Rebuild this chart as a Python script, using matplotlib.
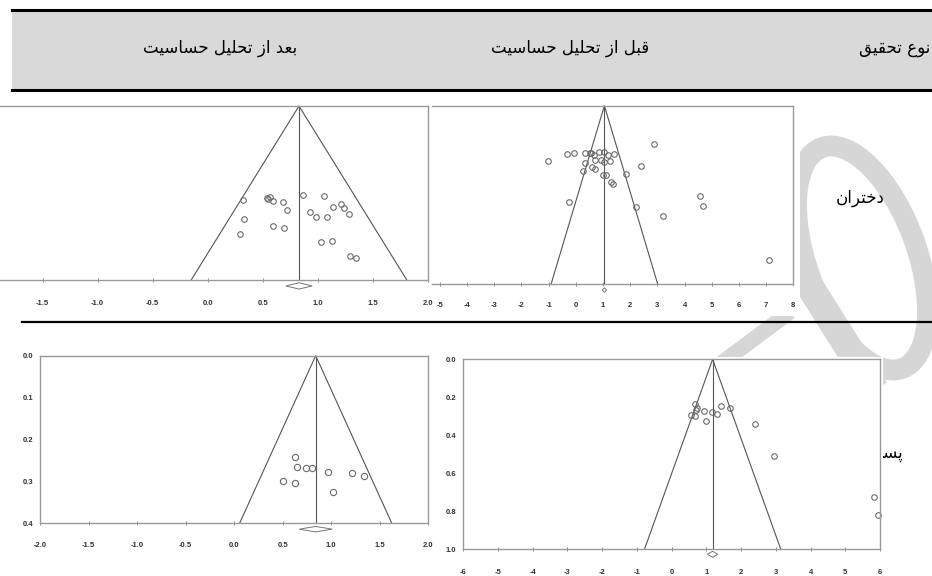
import matplotlib
matplotlib.use("Agg")
import matplotlib.pyplot as plt
from matplotlib.patches import Polygon, Rectangle, Ellipse

plt.rcParams['axes.unicode_minus'] = False

W, H = 932, 576

# ---------------- text ----------------
header_after = "بعد از تحلیل حساسیت"
header_before = "قبل از تحلیل حساسیت"
header_type = "نوع تحقیق"
row_girls = "دختران"
row_boys = "پسر"

# ---------------- data ----------------
# Girls, after sensitivity analysis (top-left)
ga_effect = [0.32, 0.54, 0.57, 0.55, 0.59, 0.68, 0.72, 0.33, 0.59, 0.69, 0.29, 0.87,
             1.06, 0.93, 0.98, 1.08, 1.14, 1.21, 1.24, 1.28, 1.03, 1.13, 1.29, 1.35]
ga_se = [0.269, 0.263, 0.262, 0.266, 0.274, 0.275, 0.298, 0.325, 0.344, 0.351, 0.367, 0.257,
         0.260, 0.304, 0.319, 0.318, 0.289, 0.282, 0.293, 0.310, 0.392, 0.387, 0.430, 0.438]
ga_pooled, ga_ci = 0.83, (0.71, 0.95)
ga_semax = 0.5
ga_xticks = [-1.5, -1.0, -0.5, 0.0, 0.5, 1.0, 1.5, 2.0]
ga_xlabels = ["-1.5", "-1.0", "-0.5", "0.0", "0.5", "1.0", "1.5", "2.0"]

# Girls, before sensitivity analysis (top-right)
gb_effect = [-1.01, -0.33, -0.05, 0.32, 0.52, 0.57, 0.68, 0.84, 1.04, 1.18, 1.39, 0.71,
             0.92, 1.05, 1.26, 0.33, 0.59, 0.70, 0.28, 1.01, 1.12, 1.30, 1.35, 1.83,
             2.38, 2.89, -0.25, 2.20, 3.19, 4.55, 4.67, 7.09]
gb_se = [0.310, 0.270, 0.268, 0.268, 0.266, 0.268, 0.276, 0.257, 0.259, 0.278, 0.272, 0.302,
         0.306, 0.317, 0.311, 0.324, 0.343, 0.356, 0.368, 0.390, 0.388, 0.430, 0.439, 0.381,
         0.340, 0.214, 0.540, 0.570, 0.621, 0.505, 0.563, 0.865]
gb_pooled, gb_ci = 1.05, (0.97, 1.13)
gb_semax = 1.0
gb_xticks = [-5, -4, -3, -2, -1, 0, 1, 2, 3, 4, 5, 6, 7, 8]
gb_xlabels = ["-5", "-4", "-3", "-2", "-1", "0", "1", "2", "3", "4", "5", "6", "7", "8"]

# Boys, after sensitivity analysis (bottom-left)
ba_effect = [0.63, 0.65, 0.74, 0.80, 0.97, 1.21, 1.34, 0.50, 0.63, 1.02]
ba_se = [0.242, 0.266, 0.267, 0.269, 0.277, 0.281, 0.286, 0.298, 0.303, 0.325]
ba_pooled, ba_ci = 0.84, (0.67, 1.01)
ba_semax = 0.4
ba_xticks = [-2.0, -1.5, -1.0, -0.5, 0.0, 0.5, 1.0, 1.5, 2.0]
ba_xlabels = ["-2.0", "-1.5", "-1.0", "-0.5", "0.0", "0.5", "1.0", "1.5", "2.0"]
ba_yticks = [0.0, 0.1, 0.2, 0.3, 0.4]
ba_ylabels = ["0.0", "0.1", "0.2", "0.3", "0.4"]

# Boys, before sensitivity analysis (bottom-right)
bb_effect = [0.66, 0.74, 0.70, 0.56, 0.68, 0.93, 0.99, 1.17, 1.30, 1.42, 1.69, 2.40,
             2.95, 5.84, 5.94]
bb_se = [0.236, 0.258, 0.267, 0.294, 0.299, 0.273, 0.324, 0.279, 0.287, 0.246, 0.258, 0.339,
         0.508, 0.724, 0.821]
bb_pooled, bb_ci = 1.18, (1.03, 1.33)
bb_semax = 1.0
bb_xticks = [-6, -5, -4, -3, -2, -1, 0, 1, 2, 3, 4, 5, 6]
bb_xlabels = ["-6", "-5", "-4", "-3", "-2", "-1", "0", "1", "2", "3", "4", "5", "6"]
bb_yticks = [0.0, 0.2, 0.4, 0.6, 0.8, 1.0]
bb_ylabels = ["0.0", "0.2", "0.4", "0.6", "0.8", "1.0"]

# ---------------- Persian shaping (presentation forms + visual order) ----------------
FORMS = {
    'ا': ('\uFE8D', '\uFE8E', None, None),
    'ب': ('\uFE8F', '\uFE90', '\uFE91', '\uFE92'),
    'پ': ('\uFB56', '\uFB57', '\uFB58', '\uFB59'),
    'ت': ('\uFE95', '\uFE96', '\uFE97', '\uFE98'),
    'ح': ('\uFEA1', '\uFEA2', '\uFEA3', '\uFEA4'),
    'خ': ('\uFEA5', '\uFEA6', '\uFEA7', '\uFEA8'),
    'د': ('\uFEA9', '\uFEAA', None, None),
    'ر': ('\uFEAD', '\uFEAE', None, None),
    'ز': ('\uFEAF', '\uFEB0', None, None),
    'س': ('\uFEB1', '\uFEB2', '\uFEB3', '\uFEB4'),
    'ع': ('\uFEC9', '\uFECA', '\uFECB', '\uFECC'),
    'ق': ('\uFED5', '\uFED6', '\uFED7', '\uFED8'),
    'ل': ('\uFEDD', '\uFEDE', '\uFEDF', '\uFEE0'),
    'ن': ('\uFEE5', '\uFEE6', '\uFEE7', '\uFEE8'),
    'و': ('\uFEED', '\uFEEE', None, None),
    'ی': ('\uFBFC', '\uFBFD', '\uFBFE', '\uFBFF'),
}


def shape(text):
    chars = list(text)
    out = []
    for i, c in enumerate(chars):
        f = FORMS.get(c)
        if f is None:
            out.append(c)
            continue
        prev = chars[i - 1] if i > 0 else None
        nxt = chars[i + 1] if i + 1 < len(chars) else None
        jp = prev in FORMS and FORMS[prev][2] is not None
        jn = nxt in FORMS and f[2] is not None
        if jp and jn:
            g = f[3]
        elif jp:
            g = f[1]
        elif jn:
            g = f[2]
        else:
            g = f[0]
        out.append(g)
    return ''.join(reversed(out))


def pos(x0, x1, y0, y1):
    return [x0 / W, 1 - y1 / H, (x1 - x0) / W, (y1 - y0) / H]


fig = plt.figure(figsize=(W / 100, H / 100), dpi=100)

# ---------------- background / table layer ----------------
bg = fig.add_axes([0, 0, 1, 1], zorder=0)
bg.set_xlim(0, W)
bg.set_ylim(H, 0)
bg.axis('off')

# faint watermark behind the images
wm = '#d6d6d6'
bg.add_patch(Ellipse((862, 258), 110, 235, angle=-20, fill=False, lw=15, ec=wm, zorder=1))
bg.plot([790, 875], [255, 390], color=wm, lw=20, solid_capstyle='butt', zorder=1)
bg.plot([712, 790], [370, 312], color=wm, lw=11, solid_capstyle='butt', zorder=1)

bg.text(903, 453, shape(row_boys), fontsize=12, family='DejaVu Sans', ha='right',
        va='center', zorder=1.5)

for (x0, y0, x1, y1) in [(0, 97, 430, 316), (430, 97, 800, 316),
                         (0, 327, 436, 576), (440, 357, 883, 576)]:
    bg.add_patch(Rectangle((x0, y0), x1 - x0, y1 - y0, fc='white', ec='none', zorder=2))

bg.add_patch(Rectangle((12, 10), W - 12, 80, fc='#d9d9d9', ec='none', zorder=3))
bg.plot([12, W], [10, 10], color='black', lw=2.2, zorder=4)
bg.plot([12, W], [90, 90], color='black', lw=2.2, zorder=4)
bg.plot([22, W], [322, 322], color='black', lw=1.6, zorder=4)

hfont = dict(fontsize=12, family='DejaVu Sans', color='black', zorder=5, va='center')
bg.text(220, 48, shape(header_after), ha='center', **hfont)
bg.text(570, 48, shape(header_before), ha='center', **hfont)
bg.text(930, 48, shape(header_type), ha='right', **hfont)
bg.text(860, 198, shape(row_girls), ha='center', **hfont)

# ---------------- funnel plots ----------------
tickfont = dict(fontsize=5.5, fontweight='bold', family='Liberation Sans', color='#333333')
frame_c = '#9a9a9a'
line_c = '#555555'
pt_c = '#6a6a6a'


def funnel(rect, effect, se, pooled, ci, semax, xlim, xticks, xlabels, xpad,
           yticks=None, ylabels=None, show_left=True, diamond_y=0.02, diamond_h=0.01,
           msize=4.0):
    ax = fig.add_axes(pos(*rect), zorder=1)
    ax.set_facecolor('white')
    ax.set_xlim(*xlim)
    ax.set_ylim(semax, 0)
    for s in ['top', 'right', 'bottom', 'left']:
        ax.spines[s].set_color(frame_c)
        ax.spines[s].set_linewidth(1.0)
    ax.spines['left'].set_visible(show_left)
    lo = pooled - 1.96 * semax
    hi = pooled + 1.96 * semax
    ax.plot([lo, pooled, hi], [semax, 0, semax], color=line_c, lw=0.8, clip_on=False)
    ax.plot([pooled, pooled], [0, semax], color=line_c, lw=0.8)
    ax.plot(effect, se, linestyle='none', marker='o', ms=msize, mfc='none',
            mec=pt_c, mew=0.8, clip_on=False)
    yd = semax + diamond_y
    ax.add_patch(Polygon([(ci[0], yd), (pooled, yd - diamond_h), (ci[1], yd),
                          (pooled, yd + diamond_h)], closed=True, fc='white',
                         ec='#777777', lw=0.7, clip_on=False))
    ax.set_xticks(xticks)
    ax.set_xticklabels(xlabels, **tickfont)
    ax.tick_params(axis='x', direction='inout', length=2.5, width=0.6, color='#777777',
                   pad=xpad)
    if yticks is not None:
        ax.set_yticks(yticks)
        ax.set_yticklabels(ylabels, **tickfont)
        ax.tick_params(axis='y', length=0, pad=5)
    else:
        ax.set_yticks([])
    return ax


funnel((-12.3, 427.7, 106, 280), ga_effect, ga_se, ga_pooled, ga_ci, ga_semax,
       (-2.0, 2.0), ga_xticks, ga_xlabels, xpad=13, show_left=False,
       diamond_y=0.017, diamond_h=0.009)
funnel((431.8, 793.3, 105.7, 284), gb_effect, gb_se, gb_pooled, gb_ci, gb_semax,
       (-5.3, 8.0), gb_xticks, gb_xlabels, xpad=12, show_left=False,
       diamond_y=0.034, diamond_h=0.013)
funnel((40, 428.3, 355.7, 523.3), ba_effect, ba_se, ba_pooled, ba_ci, ba_semax,
       (-2.0, 2.0), ba_xticks, ba_xlabels, xpad=12, yticks=ba_yticks,
       ylabels=ba_ylabels, diamond_y=0.014, diamond_h=0.0065, msize=4.5)
funnel((463.3, 880, 359.3, 549), bb_effect, bb_se, bb_pooled, bb_ci, bb_semax,
       (-6.0, 6.0), bb_xticks, bb_xlabels, xpad=13.5, yticks=bb_yticks,
       ylabels=bb_ylabels, diamond_y=0.028, diamond_h=0.016)

fig.savefig('out.png', dpi=100)
